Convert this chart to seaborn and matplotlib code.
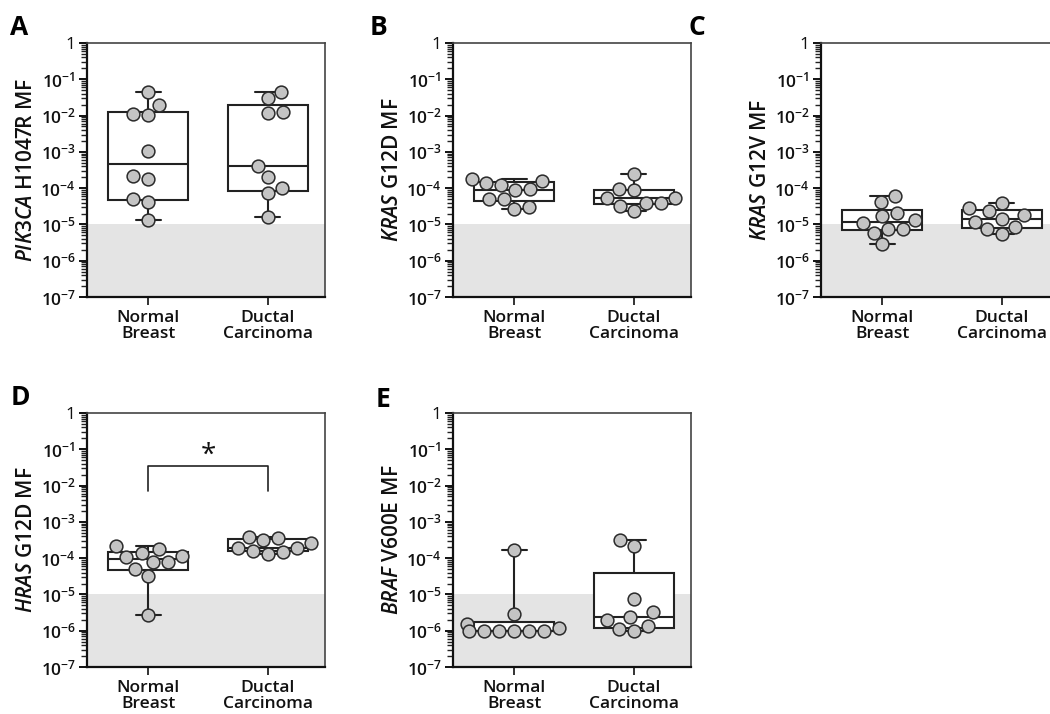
import numpy as np
import pandas as pd
import matplotlib
matplotlib.use("Agg")
import matplotlib.pyplot as plt
from matplotlib.ticker import FixedLocator, NullFormatter
import seaborn as sns

# ---------------- data ----------------
groups = ["Normal\nBreast", "Ductal\nCarcinoma"]

A_normal = [4.5e-2, 2.0e-2, 1.1e-2, 1.05e-2, 1.05e-3, 1.8e-4, 2.1e-4, 4.9e-5, 4.2e-5, 1.3e-5]
A_ductal = [4.5e-2, 3.1e-2, 1.25e-2, 1.2e-2, 4.0e-4, 2.0e-4, 9.8e-5, 7.4e-5, 1.6e-5]

B_normal = [1.8e-4, 1.4e-4, 9.2e-5, 8.7e-5, 1.2e-4, 1.55e-4, 4.9e-5, 2.6e-5, 3.1e-5, 5.1e-5]
B_ductal = [2.4e-4, 9.2e-5, 9.0e-5, 5.2e-5, 4.0e-5, 2.3e-5, 3.2e-5, 4.0e-5, 5.4e-5]

C_normal = [6.0e-5, 4.2e-5, 1.3e-5, 2.1e-5, 1.7e-5, 7.6e-6, 7.3e-6, 1.1e-5, 5.9e-6, 2.8e-6]
C_ductal = [4.0e-5, 2.8e-5, 2.3e-5, 1.8e-5, 1.44e-5, 1.2e-5, 8.7e-6, 7.3e-6, 5.6e-6]

D_normal = [2.1e-4, 1.8e-4, 1.4e-4, 1.14e-4, 1.07e-4, 7.9e-5, 7.8e-5, 5.1e-5, 3.3e-5, 2.7e-6]
D_ductal = [3.9e-4, 3.6e-4, 3.1e-4, 2.6e-4, 1.9e-4, 1.9e-4, 1.6e-4, 1.5e-4, 1.3e-4]

E_normal = [1.7e-4, 2.8e-6, 1.5e-6, 1.2e-6, 1.0e-6, 1.0e-6, 1.0e-6, 1.0e-6, 1.0e-6, 1.0e-6]
E_ductal = [3.2e-4, 2.1e-4, 7.3e-6, 3.2e-6, 2.4e-6, 1.95e-6, 1.35e-6, 1.1e-6, 1.0e-6]

panel_letters = ["A", "B", "C", "D", "E"]
gene_names = ["PIK3CA", "KRAS", "KRAS", "HRAS", "BRAF"]
mutations = ["H1047R", "G12D", "G12V", "G12D", "V600E"]
y_ticks = [1e0, 1e-1, 1e-2, 1e-3, 1e-4, 1e-5, 1e-6, 1e-7]
y_ticklabels = ["1", "$10^{-1}$", "$10^{-2}$", "$10^{-3}$", "$10^{-4}$",
                "$10^{-5}$", "$10^{-6}$", "$10^{-7}$"]
detection_limit = [1e-7, 1e-5]
sig_bracket = [7.3e-3, 3.5e-2]   # panel D bracket: leg bottom, bar height
sig_label = "*"

panel_data = [(A_normal, A_ductal), (B_normal, B_ductal), (C_normal, C_ductal),
              (D_normal, D_ductal), (E_normal, E_ductal)]

# ---------------- style ----------------
sns.set_theme(style="ticks")
plt.rcParams["font.family"] = ["Open Sans", "DejaVu Sans"]
plt.rcParams["mathtext.fontset"] = "custom"
plt.rcParams["mathtext.rm"] = "Open Sans:semibold"
plt.rcParams["mathtext.it"] = "Open Sans:italic:semibold"
plt.rcParams["mathtext.bf"] = "Open Sans:bold"

W, H = 1050, 714
fig = plt.figure(figsize=(W / 100, H / 100), dpi=100)

AX_W, AX_H = 238, 254
lefts = [87, 453, 821, 87, 453]
tops = [43, 43, 43, 413, 413]
letter_pos = [(10, 35), (370, 35), (689, 35), (11, 405), (376, 407)]

DARK = "#222222"
POINT = "#c4c4c4"
SHADE = "#e4e4e4"

minor_ticks = [m * 10.0 ** e for e in range(-7, 0) for m in range(2, 10)]


def gp_stats(vals):
    lv = np.log10(np.asarray(vals, dtype=float))
    q1, med, q3 = np.percentile(lv, [25, 50, 75], method="weibull")
    return dict(med=10 ** med, q1=10 ** q1, q3=10 ** q3,
                whislo=float(np.min(vals)), whishi=float(np.max(vals)), fliers=[])


for i, (normal, ductal) in enumerate(panel_data):
    l, t = lefts[i], tops[i]
    ax = fig.add_axes([l / W, 1 - (t + AX_H) / H, AX_W / W, AX_H / H])
    ax.set_yscale("log")

    df = pd.DataFrame({
        "group": [groups[0]] * len(normal) + [groups[1]] * len(ductal),
        "value": list(normal) + list(ductal),
    })

    ax.axhspan(detection_limit[0], detection_limit[1], color=SHADE, zorder=0, lw=0)

    stats = [gp_stats(normal), gp_stats(ductal)]
    lw_box = 1.5
    ax.bxp(stats, positions=[0, 1], widths=0.67, showfliers=False,
           patch_artist=True, manage_ticks=False, capwidths=0.21,
           boxprops=dict(facecolor="white", edgecolor=DARK, linewidth=lw_box),
           medianprops=dict(color=DARK, linewidth=lw_box),
           whiskerprops=dict(color=DARK, linewidth=lw_box),
           capprops=dict(color=DARK, linewidth=lw_box), zorder=2)

    sns.swarmplot(data=df, x="group", y="value", order=groups, ax=ax,
                  size=9.2, color=POINT, edgecolor="#2a2a2a", linewidth=1.1,
                  log_scale=True, zorder=3)

    ax.set_yscale("log")
    ax.set_ylim(1e-7, 1)
    ax.set_xlim(-0.513, 1.479)

    ax.yaxis.set_major_locator(FixedLocator(y_ticks))
    ax.set_yticklabels(y_ticklabels)
    ax.yaxis.set_minor_locator(FixedLocator(minor_ticks))
    ax.yaxis.set_minor_formatter(NullFormatter())
    ax.set_xticks([0, 1])
    ax.set_xticklabels(groups, fontsize=12.5, fontweight="semibold",
                       linespacing=1.0, color="#111111")

    ax.tick_params(axis="y", which="major", direction="out", length=6, width=1.4,
                   labelsize=12.5, pad=2, color="#111111", labelcolor="#111111",
                   left=True, right=False)
    ax.tick_params(axis="y", which="minor", direction="out", length=4, width=1.0,
                   color="#222222", left=True, right=False)
    ax.tick_params(axis="x", which="major", direction="out", length=6, width=1.3,
                   pad=3, color=DARK, bottom=True, top=False)
    ax.tick_params(axis="x", which="minor", bottom=False, top=False)

    for side in ["left", "bottom"]:
        ax.spines[side].set_linewidth(1.6)
        ax.spines[side].set_color("#111111")
    for side in ["top", "right"]:
        ax.spines[side].set_visible(True)
        ax.spines[side].set_linewidth(1.2)
        ax.spines[side].set_color("#444444")

    ax.set_xlabel("")
    ax.set_ylabel(r"$\mathit{" + gene_names[i] + "}$ " + mutations[i] + " MF",
                  fontsize=15, color="#111111", labelpad=2, fontweight="semibold")

    if i == 3:
        ax.plot([0, 0, 1, 1], [sig_bracket[0], sig_bracket[1], sig_bracket[1], sig_bracket[0]],
                color=DARK, lw=1.2, zorder=3)
        ax.text(0.5, sig_bracket[1] * 0.8, sig_label, ha="center", va="bottom",
                fontsize=20, color="#111111")

    lx, ly = letter_pos[i]
    fig.text(lx / W, 1 - ly / H, panel_letters[i], fontsize=19, fontweight="bold",
             ha="left", va="baseline", color="#000000")

fig.savefig("out.png", dpi=100)
